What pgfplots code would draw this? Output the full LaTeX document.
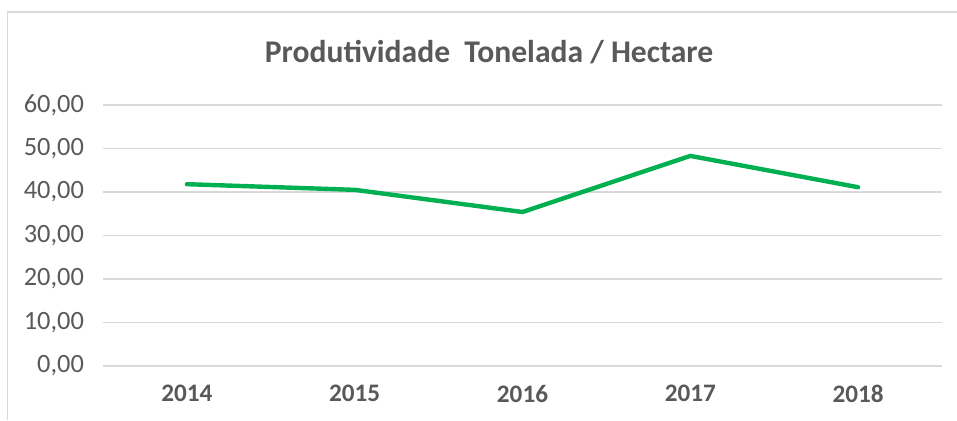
\documentclass[border=0pt]{standalone}
\usepackage{fontspec}
\setmainfont{Carlito}
\usepackage{pgfplots}
\pgfplotsset{compat=1.18}
\definecolor{gridgray}{HTML}{D9D9D9}
\definecolor{txtgray}{HTML}{595959}
\definecolor{linegreen}{HTML}{00B050}
\begin{document}
\begin{tikzpicture}
\useasboundingbox (0pt,0pt) rectangle (478.5pt,210pt);
\draw[gridgray,line width=0.8pt] (3.75pt,0pt) -- (3.75pt,204pt) -- (478.5pt,204pt);
\node[font=\bfseries\fontsize{15.8}{18}\selectfont,text=txtgray] at (244.5pt,184pt) {Produtividade\ \ Tonelada / Hectare};
\begin{axis}[
  at={(51.5pt,27pt)}, anchor=south west,
  scale only axis,
  width=419.5pt, height=130.5pt,
  xmin=-0.5, xmax=4.5, ymin=0, ymax=60,
  xtick={0,1,2,3,4},
  xticklabels={2014,2015,2016,2017,2018},
  ytick={0,10,20,30,40,50,60},
  yticklabels={{0,00},{10,00},{20,00},{30,00},{40,00},{50,00},{60,00}},
  axis line style={draw=none},
  major tick length=0pt,
  ymajorgrids,
  grid style={gridgray,line width=0.75pt},
  xticklabel style={font=\bfseries\fontsize{12.6}{14}\selectfont,text=txtgray,yshift=-6pt},
  yticklabel style={font=\fontsize{13.2}{15}\selectfont,text=txtgray,xshift=-6pt},
  clip=false,
]
\addplot[linegreen,line width=2.2pt,line join=round,line cap=round] coordinates {
  (0,41.8) (1,40.5) (2,35.4) (3,48.3) (4,41.1)
};
\end{axis}
\end{tikzpicture}
\end{document}
